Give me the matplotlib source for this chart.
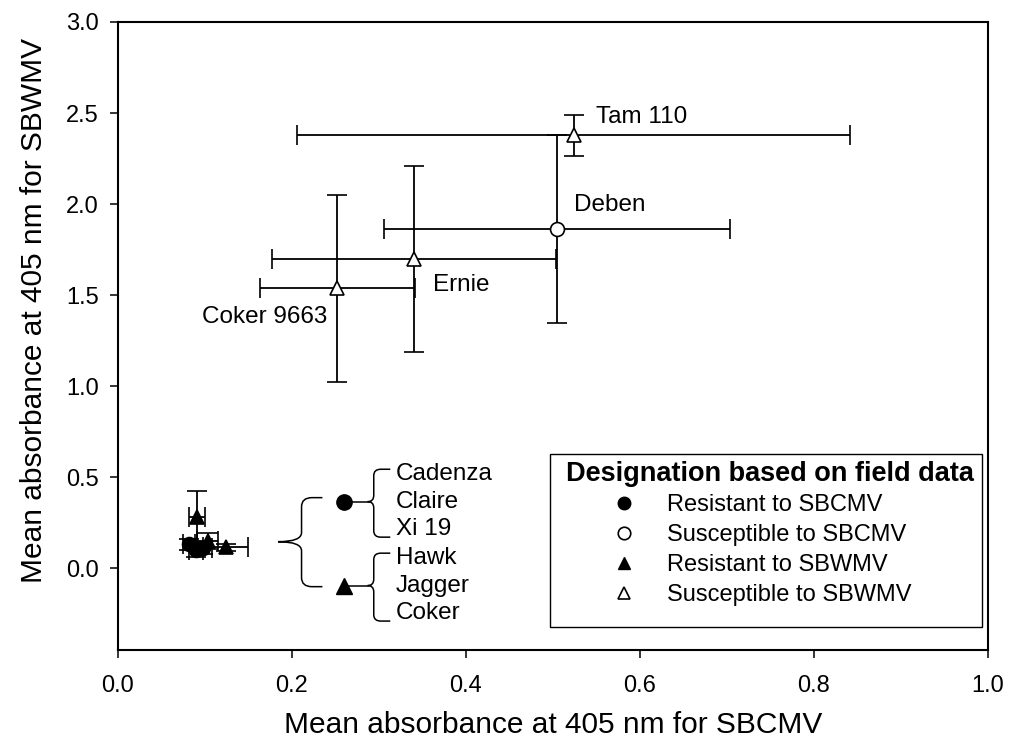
import matplotlib.pyplot as plt
from matplotlib.path import Path
from matplotlib.patches import PathPatch, Rectangle
from matplotlib.lines import Line2D

plt.rcParams['font.family'] = ['Liberation Sans', 'DejaVu Sans']

# susceptible cultivars (open markers), labelled on the plot
sus_names = ['Tam 110', 'Deben', 'Ernie', 'Coker 9663']
sus_x = [0.524, 0.505, 0.340, 0.252]
sus_xerr = [0.318, 0.199, 0.163, 0.089]
sus_y = [2.377, 1.863, 1.699, 1.538]
sus_yerr = [0.113, 0.516, 0.511, 0.514]
sus_marker = ['^', 'o', '^', '^']

# resistant cultivars (filled markers), clustered near the origin
rc_x = [0.082, 0.090, 0.098]
rc_xerr = [0.007, 0.008, 0.010]
rc_y = [0.13, 0.10, 0.11]
rc_yerr = [0.03, 0.04, 0.035]
rt_x = [0.091, 0.103, 0.124]
rt_xerr = [0.009, 0.012, 0.026]
rt_y = [0.283, 0.15, 0.115]
rt_yerr = [0.142, 0.045, 0.02]

circle_names = ['Cadenza', 'Claire', 'Xi 19']
triangle_names = ['Hawk', 'Jagger', 'Coker']

legend_labels = ['Resistant to SBCMV', 'Susceptible to SBCMV',
                 'Resistant to SBWMV', 'Susceptible to SBWMV']

fig = plt.figure(figsize=(10.11, 7.48), dpi=100)
ax = fig.add_axes([0.1167, 0.131, 0.8605, 0.8396])

eb = dict(ecolor='k', elinewidth=1.3, capsize=7, capthick=1.3, ls='none',
          mec='k', mew=1.2, color='k')

# resistant cluster
ax.errorbar(rc_x, rc_y, xerr=rc_xerr, yerr=rc_yerr, fmt='o', ms=10, mfc='k', **eb)
ax.errorbar(rt_x, rt_y, xerr=rt_xerr, yerr=rt_yerr, fmt='^', ms=10, mfc='k', **eb)

# susceptible points
for i in range(len(sus_names)):
    ax.errorbar(sus_x[i], sus_y[i], xerr=sus_xerr[i], yerr=sus_yerr[i],
                fmt=sus_marker[i], ms=10, mfc='white', zorder=3, **eb)

label_offsets = {'Tam 110': (16, 13, 'left'), 'Deben': (12, 17, 'left'),
                 'Ernie': (14, -19, 'left'), 'Coker 9663': (-7, -21, 'right')}
for i, name in enumerate(sus_names):
    dx, dy, ha = label_offsets[name]
    ax.annotate(name, (sus_x[i], sus_y[i]), xytext=(dx, dy),
                textcoords='offset points', ha=ha, va='center', fontsize=17.5)


def brace(x_tip, x_spine, x_arm, y_top, y_mid, y_bot, rx=0.010, ry=0.045):
    verts = [(x_arm, y_top), (x_spine + rx, y_top), (x_spine, y_top), (x_spine, y_top - ry),
             (x_spine, y_mid + ry), (x_spine, y_mid), (x_tip, y_mid),
             (x_spine, y_mid), (x_spine, y_mid - ry),
             (x_spine, y_bot + ry), (x_spine, y_bot), (x_spine + rx, y_bot), (x_arm, y_bot)]
    codes = [Path.MOVETO, Path.LINETO, Path.CURVE3, Path.CURVE3,
             Path.LINETO, Path.CURVE3, Path.CURVE3,
             Path.CURVE3, Path.CURVE3,
             Path.LINETO, Path.CURVE3, Path.CURVE3, Path.LINETO]
    ax.add_patch(PathPatch(Path(verts, codes), fc='none', ec='k', lw=1.1))


# key for the cluster: big brace, markers, small braces with names
key_x = 0.26
key_y = [0.365, -0.096]
brace(0.184, 0.211, 0.235, 0.387, 0.145, -0.102, rx=0.012, ry=0.05)
for ky, mk, names in zip(key_y, ['o', '^'], [circle_names, triangle_names]):
    ax.plot([key_x, 0.287], [ky, ky], color='k', lw=1.1)
    ax.plot(key_x, ky, marker=mk, ms=11, color='k', ls='none')
    brace(0.287, 0.294, 0.313, ky + 0.178, ky, ky - 0.195, rx=0.008, ry=0.035)
    for j, nm in enumerate(names):
        ax.text(0.319, ky + (1 - j) * 0.152, nm, fontsize=17.5, va='center', ha='left')

ax.set_xlim(0, 1.0)
ax.set_ylim(-0.45, 3.0)
ax.set_xticks([0.0, 0.2, 0.4, 0.6, 0.8, 1.0])
ax.set_yticks([0.0, 0.5, 1.0, 1.5, 2.0, 2.5, 3.0])
ax.tick_params(direction='out', length=6, width=1.1, labelsize=17, pad=12)
ax.tick_params(axis='y', pad=8)
for sp in ax.spines.values():
    sp.set_linewidth(1.5)

ax.set_xlabel('Mean absorbance at 405 nm for SBCMV', fontsize=21.5, labelpad=10)
ax.set_ylabel('Mean absorbance at 405 nm for SBWMV', fontsize=21.5)
ax.yaxis.set_label_coords(-0.080, 0.54)

# legend box, title and entries
handles = [Line2D([], [], ls='none', marker='o', ms=9, mfc='k', mec='k'),
           Line2D([], [], ls='none', marker='o', ms=9, mfc='white', mec='k', mew=1.2),
           Line2D([], [], ls='none', marker='^', ms=9, mfc='k', mec='k'),
           Line2D([], [], ls='none', marker='^', ms=9, mfc='white', mec='k', mew=1.2)]
ax.add_patch(Rectangle((0.4966, 0.0366), 0.4965, 0.2755, transform=ax.transAxes,
                       fc='white', ec='k', lw=1.0, zorder=4))
ax.text(0.7494, 0.2803, 'Designation based on field data', transform=ax.transAxes,
        ha='center', va='center', fontsize=19.5, fontweight='bold', zorder=5)
leg = ax.legend(handles, legend_labels, loc='upper left',
                bbox_to_anchor=(0.5575, 0.259), fontsize=17,
                frameon=False, handlelength=1.2, handletextpad=1.2,
                labelspacing=0.33, borderpad=0.3, borderaxespad=0)
leg.set_zorder(5)

fig.savefig('out.png', dpi=100)
